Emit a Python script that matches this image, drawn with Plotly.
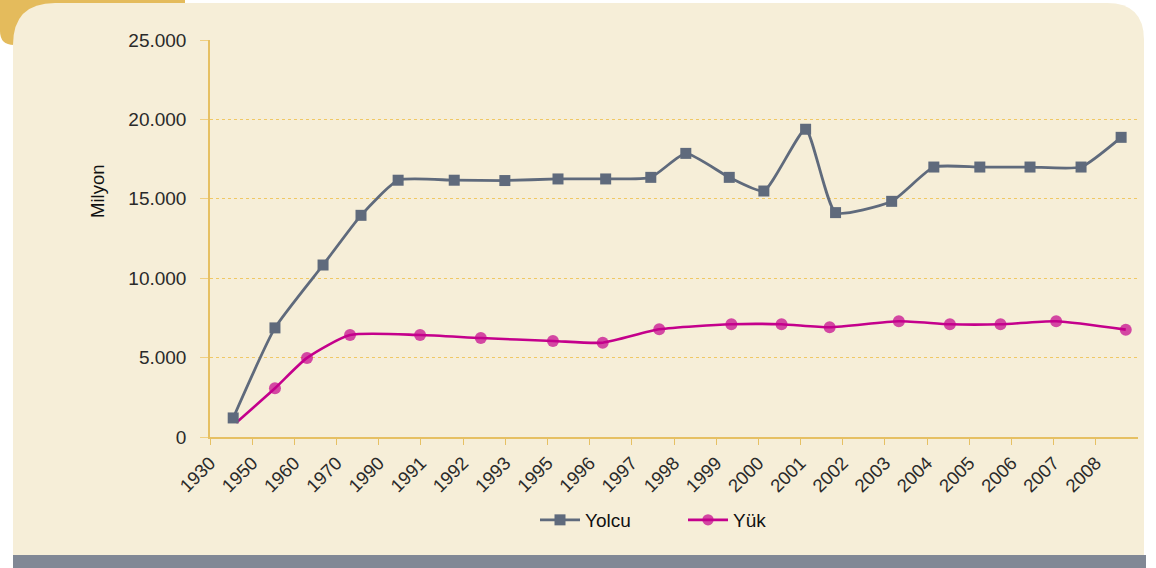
import plotly.graph_objects as go

# ---- data ----
tick_labels = ["1930", "1950", "1960", "1970", "1990", "1991", "1992", "1993", "1995",
               "1996", "1997", "1998", "1999", "2000", "2001", "2002", "2003", "2004",
               "2005", "2006", "2007", "2008"]
tick_pos = list(range(len(tick_labels)))

yolcu_x = [0.55, 1.54, 2.68, 3.58, 4.46, 5.79, 6.99, 8.25, 9.38, 10.45, 11.28, 12.31,
           13.13, 14.12, 14.83, 16.16, 17.16, 18.25, 19.44, 20.65, 21.60]
yolcu_y = [1200, 6870, 10830, 13960, 16170, 16170, 16150, 16250, 16250, 16350, 17860,
           16350, 15490, 19380, 14130, 14840, 17000, 17000, 17000, 17000, 18870]

yuk_x = [0.62, 1.54, 2.30, 3.32, 4.98, 6.42, 8.13, 9.31, 10.65, 12.36, 13.55, 14.69,
         16.33, 17.54, 18.74, 20.06, 21.71]
yuk_y = [900, 3070, 4980, 6420, 6420, 6230, 6050, 5940, 6780, 7100, 7100, 6910,
         7290, 7100, 7100, 7290, 6760]

y_ticks = [0, 5000, 10000, 15000, 20000, 25000]
y_tick_text = ["0", "5.000", "10.000", "15.000", "20.000", "25.000"]

# ---- geometry helpers (pixel -> paper) ----
W, H = 1156, 568
L, R, T, B = 210, 18, 40, 131
PW, PH = W - L - R, H - T - B


def px(x):
    return (x - L) / PW


def py(y):
    return (H - B - y) / PH


YOLCU_C = "#5f6a7c"
YUK_C = "#c4008c"
GOLD = "#e6c063"

fig = go.Figure()

yuk_sizes = [0] + [12] * (len(yuk_x) - 1)
fig.add_trace(go.Scatter(
    x=yuk_x, y=yuk_y, name="Yük", mode="lines+markers",
    line=dict(color=YUK_C, width=2.6, shape="spline", smoothing=0.6),
    marker=dict(symbol="circle", size=yuk_sizes, color=YUK_C, line=dict(width=0)),
))
fig.add_trace(go.Scatter(
    x=yolcu_x, y=yolcu_y, name="Yolcu", mode="lines+markers",
    line=dict(color=YOLCU_C, width=2.8, shape="spline", smoothing=0.5),
    marker=dict(symbol="square", size=11, color=YOLCU_C, line=dict(width=0)),
))


def P(x, y):
    return f"{px(x):.5f},{py(y):.5f}"


shapes = [
    # gold corner tab
    dict(type="path", xref="paper", yref="paper", layer="below",
         path=f"M {P(0,0)} L {P(185,0)} L {P(185,45)} L {P(14,45)} Q {P(0,45)} {P(0,31)} Z",
         fillcolor="#e4bb5c", line=dict(width=0)),
    # panel
    dict(type="path", xref="paper", yref="paper", layer="below",
         path=(f"M {P(13,45)} Q {P(13,3)} {P(55,3)} L {P(1107,3)} Q {P(1144,3)} {P(1144,40)} "
               f"L {P(1144,555)} L {P(13,555)} Z"),
         fillcolor="#f6eed8", line=dict(width=0)),
    # bottom grey bar
    dict(type="rect", xref="paper", yref="paper", layer="below",
         x0=px(13), x1=px(1146), y0=py(568), y1=py(555),
         fillcolor="#818895", line=dict(width=0)),
]

fig.update_layout(
    width=W, height=H,
    margin=dict(l=L, r=R, t=T, b=B, pad=0),
    paper_bgcolor="white",
    plot_bgcolor="rgba(0,0,0,0)",
    font=dict(family="Liberation Sans, Arial, sans-serif", color="#222222"),
    shapes=shapes,
    showlegend=True,
    legend=dict(orientation="h", x=px(535), y=py(520), xanchor="left", yanchor="middle",
                traceorder="reversed", font=dict(size=19, color="#111111"),
                bgcolor="rgba(0,0,0,0)", itemwidth=40,
                entrywidth=93, entrywidthmode="pixels"),
    annotations=[dict(text="Milyon", xref="paper", yref="paper", x=px(97), y=py(192),
                      showarrow=False, textangle=-90, font=dict(size=18.5, color="#111111"),
                      xanchor="center", yanchor="middle")],
)

fig.update_xaxes(
    range=[0, 22], tickmode="array", tickvals=tick_pos, ticktext=tick_labels,
    tickangle=-45, tickfont=dict(size=18.5, color="#2a2a2a"),
    showgrid=False, zeroline=False,
    showline=True, linecolor=GOLD, linewidth=2,
    ticks="outside", ticklen=6, tickcolor=GOLD, tickwidth=1,
)
fig.update_yaxes(
    range=[0, 25000], tickmode="array", tickvals=y_ticks, ticktext=y_tick_text,
    tickfont=dict(size=19, color="#2a2a2a"),
    showgrid=True, gridcolor="#f0c865", griddash="dot", gridwidth=1,
    zeroline=False, showline=True, linecolor=GOLD, linewidth=1.5,
    ticks="outside", ticklen=8, tickcolor="#f0cf80", tickwidth=1,
    ticklabelstandoff=10,
)

fig.write_html("out.html", config={"displayModeBar": False},
               post_script="document.body.style.margin='0';document.body.style.overflow='hidden';")
